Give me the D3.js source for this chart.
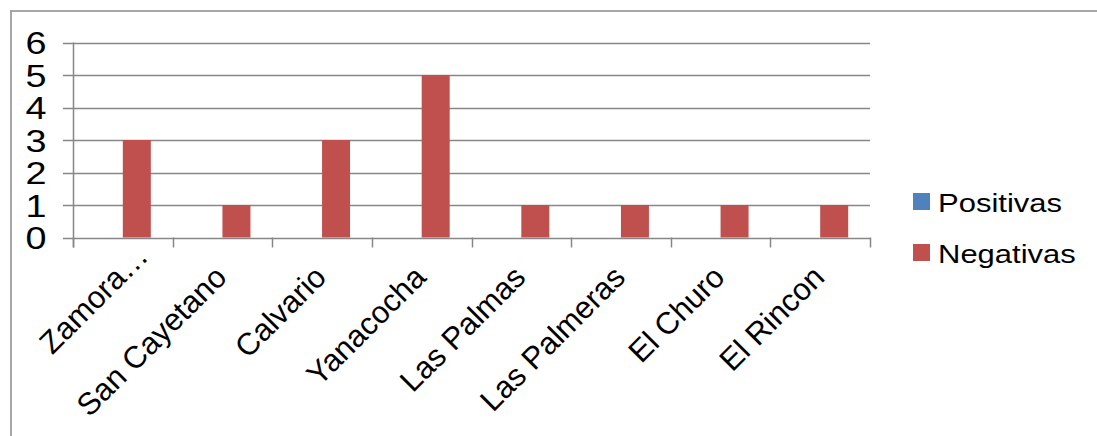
<!DOCTYPE html>
<html><head><meta charset="utf-8">
<script src="https://cdn.jsdelivr.net/npm/d3@7"></script>
<style>html,body{margin:0;padding:0;background:#fff;}svg{display:block;font-family:"Liberation Sans",Arial,sans-serif;}</style>
</head><body>
<script>
const categories = ["Zamora…","San Cayetano","Calvario","Yanacocha","Las Palmas","Las Palmeras","El Churo","El Rincon"];
const seriesNames = ["Positivas","Negativas"];
const positivas = [0,0,0,0,0,0,0,0];
const negativas = [3,1,3,5,1,1,1,1];
const yTicks = [0,1,2,3,4,5,6];
const colors = ["#4F81BD","#C0504D"];

(function(){
const W = 1097, H = 436;
const svg = d3.select("body").append("svg").attr("width", W).attr("height", H);

// outer border
svg.append("rect").attr("x", 11).attr("y", 11).attr("width", W + 20).attr("height", H + 20)
  .attr("fill", "none").attr("stroke", "#a6a6a6").attr("stroke-width", 2);

const pLeft = 73, pRight = 870, pTop = 42.5, pBottom = 237.5;
const x0 = d3.scaleBand().domain(categories).range([pLeft, pRight]).padding(0);
const bw = x0.bandwidth();
const barW = 28;
const x1 = d3.scaleBand().domain(seriesNames).range([bw/2 - barW, bw/2 + barW]).padding(0);
const y = d3.scaleLinear().domain([0, 6]).range([pBottom, pTop]);
const gridColor = "#878787";

// gridlines
svg.append("g").selectAll("line").data(yTicks).join("line")
  .attr("x1", pLeft - 10).attr("x2", pRight)
  .attr("y1", d => Math.round(y(d)) + 0.5).attr("y2", d => Math.round(y(d)) + 0.5)
  .attr("stroke", gridColor).attr("stroke-width", 1.5);

// y tick labels
svg.append("g").selectAll("text").data(yTicks).join("text")
  .attr("transform", d => `translate(46.5,${y(d) + 11.5}) scale(1.18,1)`)
  .attr("text-anchor", "end").attr("font-size", 32).attr("fill", "#000")
  .text(d => d);

// bars
const data = categories.map((c, i) => ({c, vals: [positivas[i], negativas[i]]}));
const groups = svg.append("g").selectAll("g").data(data).join("g")
  .attr("transform", d => `translate(${x0(d.c)},0)`);
groups.selectAll("rect").data(d => d.vals.map((v, k) => ({v, k}))).join("rect")
  .attr("x", d => x1(seriesNames[d.k])).attr("width", x1.bandwidth())
  .attr("y", d => y(d.v)).attr("height", d => y(0) - y(d.v))
  .attr("fill", d => colors[d.k]);

// y axis line
svg.append("line").attr("x1", pLeft + 0.5).attr("x2", pLeft + 0.5).attr("y1", pTop).attr("y2", pBottom + 10)
  .attr("stroke", gridColor).attr("stroke-width", 1.5);
// category ticks
const tickPos = categories.map(c => x0(c)).concat([pRight]);
svg.append("g").selectAll("line").data(tickPos).join("line")
  .attr("x1", d => Math.round(d) + 0.5).attr("x2", d => Math.round(d) + 0.5)
  .attr("y1", pBottom).attr("y2", pBottom + 10)
  .attr("stroke", gridColor).attr("stroke-width", 1.5);

// category labels
svg.append("g").selectAll("text").data(categories).join("text")
  .attr("transform", d => {
    const cx = x0(d) + bw/2 + 6, cy = 279;
    const s = d.endsWith("…") ? 21 : 0;
    return `translate(${cx + s},${cy - s}) rotate(-45)`;
  })
  .attr("text-anchor", "end").attr("font-size", 31).attr("fill", "#000")
  .text(d => d);

// legend
const lg = svg.append("g").selectAll("g").data(seriesNames).join("g")
  .attr("transform", (d, i) => `translate(913,${193 + i * 51})`);
lg.append("rect").attr("width", 17).attr("height", 17).attr("fill", (d, i) => colors[i]);
lg.append("text").attr("transform", "translate(25,18.5) scale(1.24,1)")
  .attr("font-size", 25).attr("fill", "#000").text(d => d);
})();
</script>
</body></html>
